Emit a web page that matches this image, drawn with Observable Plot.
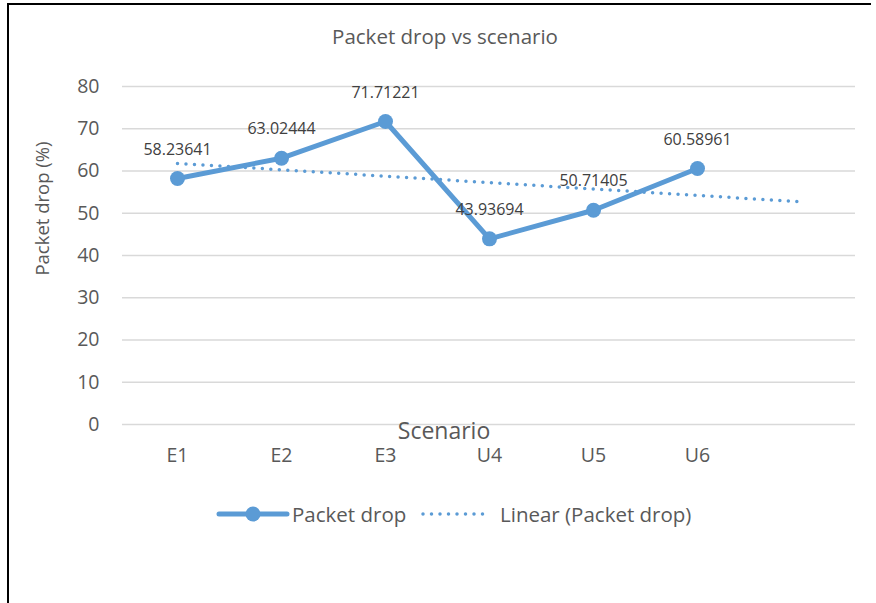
<!DOCTYPE html>
<html>
<head>
<meta charset="utf-8">
<script src="https://cdn.jsdelivr.net/npm/d3@7"></script>
<script src="https://cdn.jsdelivr.net/npm/@observablehq/plot@0.6"></script>
<style>
  body { margin: 0; background: #fff; font-family: "Open Sans", Lato, sans-serif; }
  #wrap { position: relative; width: 876px; height: 603px; overflow: hidden; background: #fff; }
  #frame { position: absolute; left: 7px; top: 3px; width: 862px; height: 610px; border-left: 2px solid #000; border-top: 2px solid #000; }
  #title { position: absolute; left: 0; width: 890px; top: 22px; text-align: center; font-size: 20.5px; color: #595959; }
  #chart { position: absolute; left: 0; top: 0; }
  #legend { position: absolute; top: 499px; left: 0; width: 876px; height: 30px; font-size: 20.5px; color: #595959; }
  #legend .item { position: absolute; top: 0; display: flex; align-items: center; height: 30px; }
</style>
</head>
<body>
<div id="wrap">
  <div id="frame"></div>
  <div id="chart"></div>
  <div id="title">Packet drop vs scenario</div>
  <div id="legend"></div>
</div>
<script>
const categories = ["E1", "E2", "E3", "U4", "U5", "U6"];
const packetDrop = [58.23641, 63.02444, 71.71221, 43.93694, 50.71405, 60.58961];
const dataLabels = ["58.23641", "63.02444", "71.71221", "43.93694", "50.71405", "60.58961"];
// Excel linear trendline, forecast one period forward
const trendCategories = ["E1", ""];
const trendValues = [61.8, 52.7];
const yTicks = [0, 10, 20, 30, 40, 50, 60, 70, 80];

const blue = "#5B9BD5";
const xDomain = [...categories, ""];

const points = categories.map((c, i) => ({cat: c, value: packetDrop[i], label: dataLabels[i]}));
const trend = trendCategories.map((c, i) => ({cat: c, value: trendValues[i]}));

const chart = Plot.plot({
  width: 876,
  height: 470,
  marginLeft: 122,
  marginRight: 21,
  marginTop: 86,
  marginBottom: 46,
  style: {fontFamily: "'Open Sans', Lato, sans-serif", color: "#595959", background: "transparent"},
  x: {type: "point", domain: xDomain, padding: 0.5, label: null},
  y: {domain: [0, 80], label: null},
  marks: [
    Plot.gridY(yTicks, {stroke: "#d9d9d9", strokeOpacity: 1, strokeWidth: 1.5}),
    Plot.axisY(yTicks, {tickSize: 0, tickPadding: 23, fontSize: 19.5, fill: "#595959", label: null}),
    Plot.axisX(categories, {tickSize: 0, tickPadding: 24, fontSize: 19.5, fill: "#595959", label: null}),
    Plot.text(["Scenario"], {frameAnchor: "bottom", dx: -45, dy: 7, lineAnchor: "middle", fontSize: 23, fill: "#595959"}),
    Plot.text(["Packet drop (%)"], {frameAnchor: "top-left", textAnchor: "middle", rotate: -90, dx: -87, dy: 122, fontSize: 18.5, fill: "#595959"}),
    Plot.line(trend, {x: "cat", y: "value", stroke: blue, strokeWidth: 3.5, strokeDasharray: "0 8.5", strokeLinecap: "round"}),
    Plot.line(points, {x: "cat", y: "value", stroke: blue, strokeWidth: 5, strokeLinejoin: "round"}),
    Plot.dot(points, {x: "cat", y: "value", r: 7.5, fill: blue, stroke: "none"}),
    Plot.text(points, {x: "cat", y: "value", text: "label", dy: -29, fontSize: 16, fill: "#404040"})
  ]
});
document.getElementById("chart").appendChild(chart);

// legend
const legend = document.getElementById("legend");
legend.innerHTML = `
  <div class="item" style="left:215px">
    <svg width="76" height="30"><line x1="4" y1="15" x2="72" y2="15" stroke="${blue}" stroke-width="5" stroke-linecap="round"/><circle cx="38" cy="15" r="7.5" fill="${blue}"/></svg>
    <span style="margin-left:1px">Packet drop</span>
  </div>
  <div class="item" style="left:420px">
    <svg width="72" height="30"><line x1="3" y1="15" x2="68" y2="15" stroke="${blue}" stroke-width="3.5" stroke-dasharray="0 8.5" stroke-linecap="round"/></svg>
    <span style="margin-left:8px">Linear (Packet drop)</span>
  </div>`;
</script>
</body>
</html>
